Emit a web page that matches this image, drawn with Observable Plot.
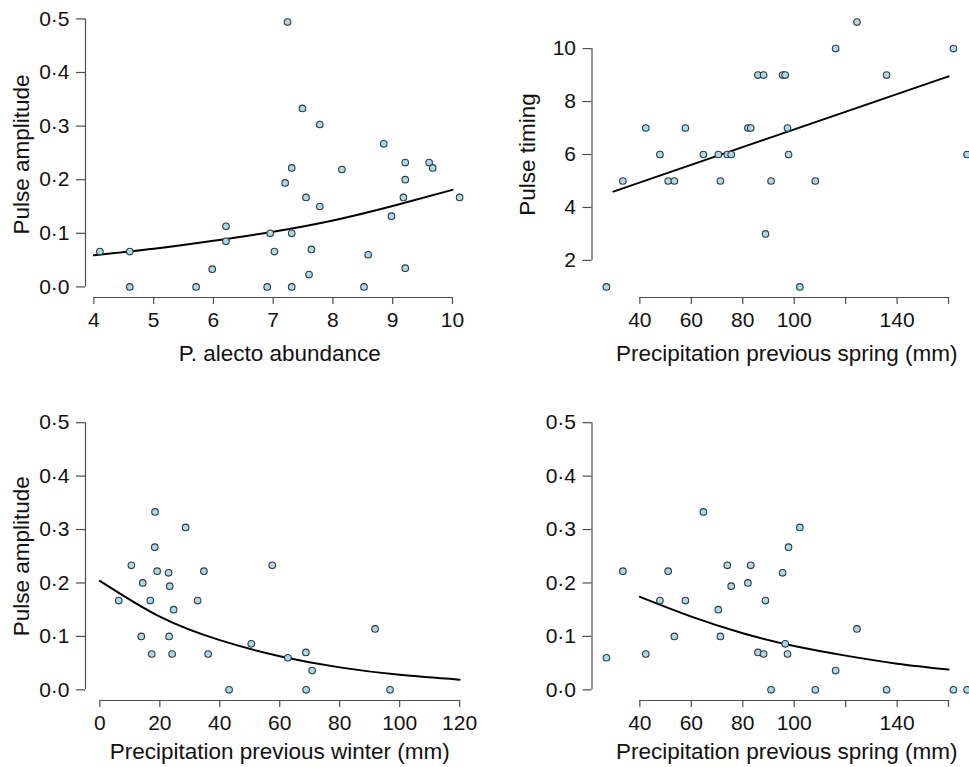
<!DOCTYPE html>
<html>
<head>
<meta charset="utf-8">
<script src="https://cdn.jsdelivr.net/npm/d3@7"></script>
<script src="https://cdn.jsdelivr.net/npm/@observablehq/plot@0.6"></script>
<style>
  html, body { margin: 0; padding: 0; background: #fff; }
  #wrap { position: relative; width: 969px; height: 767px; overflow: hidden; background: #fff; }
</style>
</head>
<body>
<div id="wrap"></div>
<script>
// ---------- Data ----------
// Panel A: P. alecto abundance vs pulse amplitude
const abundance = [4.10, 4.60, 4.60, 5.71, 5.98, 6.21, 6.21, 6.90, 6.95, 7.02, 7.20, 7.24, 7.31, 7.31, 7.31, 7.49, 7.55, 7.60, 7.64, 7.78, 7.78, 8.15, 8.52, 8.59, 8.85, 8.98, 9.21, 9.21, 9.18, 9.21, 9.61, 9.67, 10.12];
const amplitudeA = [0.066, 0.066, 0, 0, 0.033, 0.113, 0.085, 0, 0.1, 0.066, 0.194, 0.494, 0.222, 0.1, 0, 0.333, 0.167, 0.023, 0.070, 0.303, 0.150, 0.219, 0, 0.060, 0.267, 0.132, 0.232, 0.2, 0.167, 0.035, 0.232, 0.222, 0.167];
const fitAx = [4, 5, 6, 7, 8, 9, 10];
const fitAy = [0.059, 0.071, 0.086, 0.103, 0.124, 0.151, 0.181];

// Panels B & D: precipitation previous spring (shared x)
const springPrecip = [27.0, 33.4, 42.3, 47.8, 51.0, 53.4, 57.7, 64.7, 70.5, 71.3, 74.0, 75.5, 82.0, 83.1, 85.9, 88.1, 88.8, 91.0, 95.5, 96.5, 97.4, 97.8, 102.2, 108.2, 116.1, 124.4, 135.9, 161.9, 167.2];
const timing = [1, 5, 7, 6, 5, 5, 7, 6, 6, 5, 6, 6, 7, 7, 9, 9, 3, 5, 9, 9, 7, 6, 1, 5, 10, 11, 9, 10, 6];
const amplitudeD = [0.060, 0.222, 0.067, 0.167, 0.222, 0.1, 0.167, 0.333, 0.150, 0.1, 0.233, 0.194, 0.2, 0.233, 0.070, 0.067, 0.167, 0, 0.219, 0.086, 0.067, 0.267, 0.304, 0, 0.036, 0.114, 0, 0, 0];
const fitBx = [29.7, 160];
const fitBy = [4.6, 8.95];
const fitDx = [40, 60, 80, 100, 120, 140, 160];
const fitDy = [0.174, 0.137, 0.106, 0.082, 0.064, 0.049, 0.038];

// Panel C: precipitation previous winter
const winterPrecip = [6.3, 10.5, 13.8, 14.3, 16.8, 17.3, 18.4, 18.3, 19.1, 22.9, 23.3, 23.1, 24.1, 24.6, 28.6, 32.6, 34.7, 36.1, 43.1, 50.5, 57.5, 62.7, 68.7, 68.8, 70.8, 91.8, 96.8];
const amplitudeC = [0.167, 0.233, 0.1, 0.2, 0.167, 0.067, 0.333, 0.267, 0.222, 0.219, 0.194, 0.1, 0.067, 0.150, 0.304, 0.167, 0.222, 0.067, 0, 0.086, 0.233, 0.060, 0.070, 0, 0.036, 0.114, 0];
const fitCx = [0, 20, 40, 60, 80, 100, 120];
const fitCy = [0.204, 0.137, 0.093, 0.063, 0.042, 0.028, 0.019];

// Ticks & labels
const ampTicks = [0, 0.1, 0.2, 0.3, 0.4, 0.5];
const ampLabels = ["0·0", "0·1", "0·2", "0·3", "0·4", "0·5"];
const abundTicks = [4, 5, 6, 7, 8, 9, 10];
const abundLabels = ["4", "5", "6", "7", "8", "9", "10"];
const timingTicks = [2, 4, 6, 8, 10];
const timingLabels = ["2", "4", "6", "8", "10"];
const winterTicks = [0, 20, 40, 60, 80, 100, 120];
const winterLabels = ["0", "20", "40", "60", "80", "100", "120"];
const springTicks = [40, 60, 80, 100, 120, 140, 160];
const springLabels = ["40", "60", "80", "100", "", "140", ""];

// ---------- Drawing ----------
const FONT = "'Liberation Sans', Arial, Helvetica, sans-serif";
const AXIS = "#4d4d4d";
const TEXT = "#111";
const TICK_FS = 21;
const TITLE_FS = 22.5;

function padDomain(lo, hi) { const e = (hi - lo) * 0.04; return [lo - e, hi + e]; }

function panel(o) {
  const pts = o.xs.map((v, i) => ({x: v, y: o.ys[i]}));
  const fit = o.fx.map((v, i) => ({x: v, y: o.fy[i]}));
  const xMap = new Map(o.xTicks.map((t, i) => [t, o.xLabels[i]]));
  const yMap = new Map(o.yTicks.map((t, i) => [t, o.yLabels[i]]));
  const marks = [
    Plot.ruleY([o.yDomain[0]], {x1: o.xTicks[0], x2: o.xTicks[o.xTicks.length - 1], stroke: AXIS, strokeWidth: 1.2}),
    Plot.ruleX([o.xDomain[0]], {y1: o.yTicks[0], y2: o.yTicks[o.yTicks.length - 1], stroke: AXIS, strokeWidth: 1.2}),
    Plot.axisX(o.xTicks, {tickSize: 7, tickPadding: 8, tickFormat: d => xMap.get(d), stroke: AXIS, fill: TEXT, label: null, strokeWidth: 1.2, fontSize: TICK_FS}),
    Plot.axisY(o.yTicks, {tickSize: 9, tickPadding: 7, tickFormat: d => yMap.get(d), stroke: AXIS, fill: TEXT, label: null, strokeWidth: 1.2, fontSize: TICK_FS}),
    Plot.line(fit, {x: "x", y: "y", curve: "natural", stroke: "#000", strokeWidth: 2}),
    Plot.dot(pts, {x: "x", y: "y", r: 3.3, fill: "#add8e6", stroke: "#2e3a40", strokeWidth: 1.1}),
    Plot.text([o.xTitle], {frameAnchor: "bottom", dy: o.xTitleDy, lineAnchor: "middle", textAnchor: "middle", fill: TEXT, fontSize: TITLE_FS})
  ];
  if (o.yTitle) marks.push(Plot.text([o.yTitle], {frameAnchor: "left", dx: -64, rotate: -90, lineAnchor: "middle", textAnchor: "middle", fill: TEXT, fontSize: TITLE_FS}));
  const chart = Plot.plot({
    width: o.width, height: o.height,
    marginLeft: o.ml, marginRight: o.mr, marginTop: o.mt, marginBottom: o.mb,
    x: {domain: o.xDomain}, y: {domain: o.yDomain},
    style: {fontFamily: FONT, fontSize: TICK_FS + "px", color: TEXT, background: "transparent", overflow: "visible"},
    marks
  });
  chart.style.position = "absolute";
  chart.style.left = o.left + "px";
  chart.style.top = o.top + "px";
  document.getElementById("wrap").appendChild(chart);
}

const springDomain = padDomain(d3.min(springPrecip), d3.max(springPrecip));

// Top-left
panel({
  left: 0, top: 0, width: 490, height: 380, ml: 85, mr: 16.5, mt: 11, mb: 83,
  xs: abundance, ys: amplitudeA, fx: fitAx, fy: fitAy,
  xDomain: padDomain(d3.min(abundance), d3.max(abundance)),
  yDomain: padDomain(d3.min(amplitudeA), d3.max(amplitudeA)),
  xTicks: abundTicks, xLabels: abundLabels, yTicks: ampTicks, yLabels: ampLabels,
  xTitle: "P. alecto abundance", xTitleDy: 56, yTitle: "Pulse amplitude"
});
// Top-right
panel({
  left: 480, top: 0, width: 520, height: 380, ml: 111.5, mr: 19, mt: 11, mb: 83,
  xs: springPrecip, ys: timing, fx: fitBx, fy: fitBy,
  xDomain: springDomain,
  yDomain: padDomain(d3.min(timing), d3.max(timing)),
  xTicks: springTicks, xLabels: springLabels, yTicks: timingTicks, yLabels: timingLabels,
  xTitle: "Precipitation previous spring (mm)", xTitleDy: 56, yTitle: "Pulse timing"
});
// Bottom-left
panel({
  left: 0, top: 390, width: 490, height: 377, ml: 85, mr: 16.5, mt: 21.5, mb: 67,
  xs: winterPrecip, ys: amplitudeC, fx: fitCx, fy: fitCy,
  xDomain: padDomain(0, 120),
  yDomain: padDomain(0, 0.5),
  xTicks: winterTicks, xLabels: winterLabels, yTicks: ampTicks, yLabels: ampLabels,
  xTitle: "Precipitation previous winter (mm)", xTitleDy: 51, yTitle: "Pulse amplitude"
});
// Bottom-right
panel({
  left: 480, top: 390, width: 520, height: 377, ml: 111.5, mr: 19, mt: 21.5, mb: 67,
  xs: springPrecip, ys: amplitudeD, fx: fitDx, fy: fitDy,
  xDomain: springDomain,
  yDomain: padDomain(0, 0.5),
  xTicks: springTicks, xLabels: springLabels, yTicks: ampTicks, yLabels: ampLabels,
  xTitle: "Precipitation previous spring (mm)", xTitleDy: 51, yTitle: null
});
</script>
</body>
</html>
